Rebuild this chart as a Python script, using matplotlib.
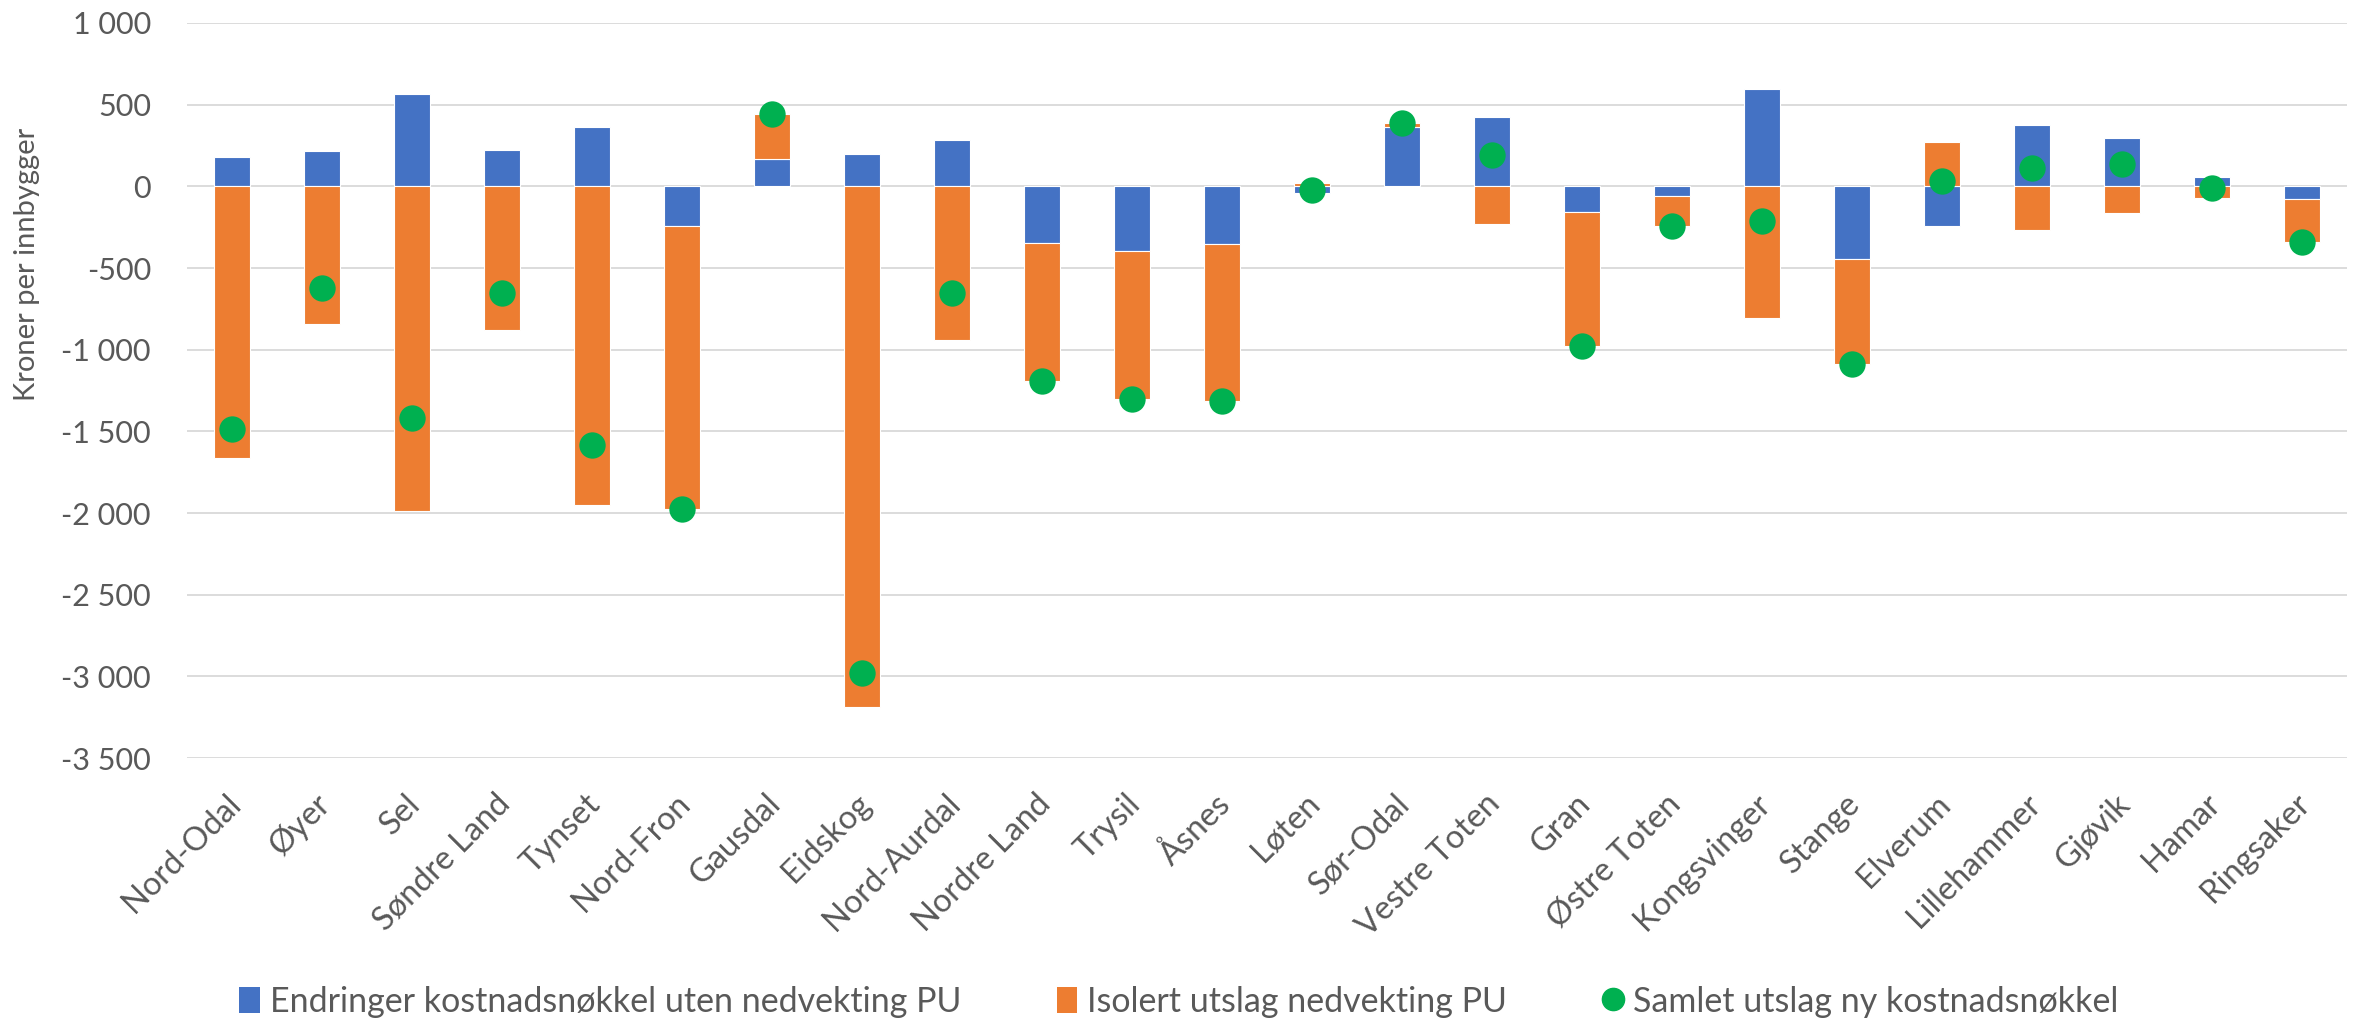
import matplotlib
matplotlib.use("Agg")
import matplotlib.pyplot as plt
import matplotlib.transforms as mtransforms
from matplotlib.patches import Patch
from matplotlib.lines import Line2D
from matplotlib.ticker import FuncFormatter, MultipleLocator
import numpy as np


kommuner = ["Nord-Odal", "Øyer", "Sel", "Søndre Land", "Tynset", "Nord-Fron",
            "Gausdal", "Eidskog", "Nord-Aurdal", "Nordre Land", "Trysil", "Åsnes",
            "Løten", "Sør-Odal", "Vestre Toten", "Gran", "Østre Toten",
            "Kongsvinger", "Stange", "Elverum", "Lillehammer", "Gjøvik",
            "Hamar", "Ringsaker"]

# endringer kostnadsnøkkel uten nedvekting PU
endring = [180, 214, 567, 222, 363, -245, 167, 200, 282, -345, -398, -351,
           -40, 361, 422, -155, -57, 594, -447, -243, 377, 296, 59, -80]

# isolert utslag nedvekting PU
isolert = [-1665, -840, -1987, -877, -1950, -1732, 274, -3187, -938, -848,
           -904, -963, 20, 25, -233, -822, -184, -806, -638, 269, -265, -161,
           -71, -261]

# samlet utslag ny kostnadsnøkkel
samlet = [-1483, -622, -1418, -651, -1581, -1977, 442, -2982, -651, -1193,
          -1302, -1314, -20, 386, 194, -977, -241, -210, -1085, 31, 114, 136,
          -10, -341]

BLUE = "#4472C4"
ORANGE = "#ED7D31"
GREEN = "#00B050"
TEXT = "#595959"

plt.rcParams['font.family'] = ['Lato', 'DejaVu Sans']

fig = plt.figure(figsize=(23.67, 10.22), dpi=100)
ax = fig.add_axes([0.079, 0.2583, 0.9125, 0.7192])

x = np.arange(len(kommuner))
b = np.array(endring)
o = np.array(isolert)
# excel stacks positives and negatives separately
o_bottom = np.where(np.sign(b) == np.sign(o), b, 0)

ax.bar(x, b, width=0.4, color=BLUE, edgecolor="white", linewidth=0.8, zorder=2)
ax.bar(x, o, width=0.4, bottom=o_bottom, color=ORANGE, edgecolor="white",
       linewidth=0.8, zorder=2)
ax.scatter(x, samlet, s=360, color=GREEN, zorder=3, linewidths=0)

ax.set_xlim(-0.5, len(kommuner) - 0.5)
ax.set_ylim(-3500, 1000)
ax.yaxis.set_major_locator(MultipleLocator(500))
ax.yaxis.set_major_formatter(FuncFormatter(lambda v, p: f"{v:,.0f}".replace(",", " ")))
ax.grid(axis="y", color="#D9D9D9", linewidth=1.3, zorder=0)
ax.set_axisbelow(True)
for s in ax.spines.values():
    s.set_visible(False)

ax.tick_params(axis="y", length=0, pad=26, labelsize=22, labelcolor=TEXT)
ax.tick_params(axis="x", length=0, pad=22, labelsize=23.5, labelcolor=TEXT)
ax.set_xticks(x)
ax.set_xticklabels(kommuner, rotation=45, ha="right", va="top",
                   rotation_mode="anchor")
offset = mtransforms.ScaledTranslation(-0.07, 0, fig.dpi_scale_trans)
for lab in ax.get_xticklabels():
    lab.set_transform(lab.get_transform() + offset)

ax.set_ylabel("Kroner per innbygger", fontsize=21, color=TEXT)
ax.yaxis.set_label_coords(-0.068, 0.672)

handles = [
    Patch(facecolor=BLUE, label="Endringer kostnadsnøkkel uten nedvekting PU"),
    Patch(facecolor=ORANGE, label="Isolert utslag nedvekting PU"),
    Line2D([], [], marker="o", color=GREEN, linestyle="none", markersize=16,
           label="Samlet utslag ny kostnadsnøkkel"),
]
leg = fig.legend(handles=handles, loc="center", bbox_to_anchor=(0.498, 0.02),
                 ncol=3, frameon=False, fontsize=24.5, handlelength=0.6,
                 handleheight=0.8, handletextpad=0.3, columnspacing=2.8)
for t in leg.get_texts():
    t.set_color(TEXT)

fig.savefig("out.png", dpi=100, facecolor="white")
